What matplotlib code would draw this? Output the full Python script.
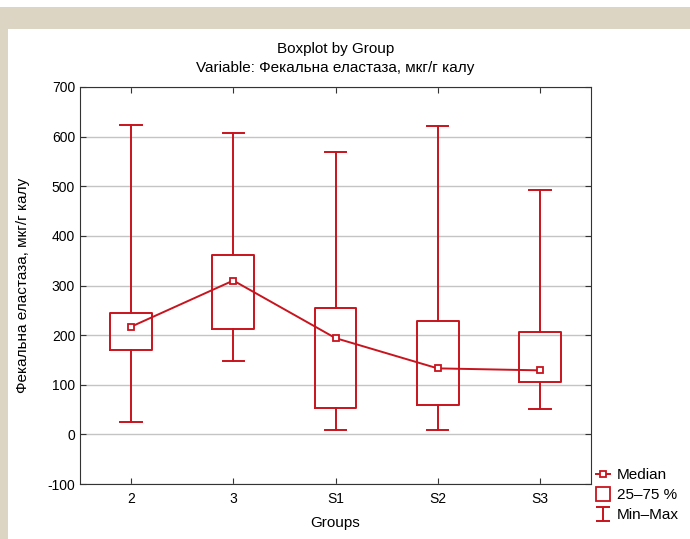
import matplotlib.pyplot as plt
import matplotlib.path as mpath
from matplotlib.lines import Line2D
from matplotlib.patches import Rectangle

plt.rcParams['font.family'] = ['Liberation Sans', 'DejaVu Sans']
plt.rcParams['axes.unicode_minus'] = False

# Дані
groups = ['2', '3', 'S1', 'S2', 'S3']
minimum = [25, 148, 8, 9, 51]
q1 = [171, 212, 53, 59, 106]
median = [217, 310, 194, 133, 129]
q3 = [245, 362, 255, 229, 206]
maximum = [623, 607, 570, 622, 493]

red = '#c8141e'
beige = '#ddd5c3'

fig = plt.figure(figsize=(6.9, 5.39), dpi=100)
# бежева рамка зверху і зліва
fig.patches.append(Rectangle((0, 1 - 29 / 539), 1, 22 / 539, transform=fig.transFigure,
                             facecolor=beige, edgecolor='none', zorder=-1))
fig.patches.append(Rectangle((0, 0), 8 / 690, 1 - 7 / 539, transform=fig.transFigure,
                             facecolor=beige, edgecolor='none', zorder=-1))

ax = fig.add_axes([80 / 690, 1 - 484 / 539, 511 / 690, 397 / 539])
pos = list(range(1, len(groups) + 1))

stats = []
for g, lo, a, m, b, hi in zip(groups, minimum, q1, median, q3, maximum):
    stats.append({'label': g, 'whislo': lo, 'q1': a, 'med': m, 'q3': b, 'whishi': hi})

ax.bxp(stats, positions=pos, widths=0.41, showfliers=False,
       boxprops=dict(color=red, linewidth=1.4),
       whiskerprops=dict(color=red, linewidth=1.4),
       capprops=dict(color=red, linewidth=1.4),
       medianprops=dict(linewidth=0),
       capwidths=0.21)

ax.plot(pos, median, color=red, linewidth=1.4, marker='s', markersize=5,
        markerfacecolor='white', markeredgecolor=red, markeredgewidth=1.3, zorder=5)

ax.set_xlim(0.5, 5.5)
ax.set_ylim(-100, 700)
ax.set_yticks(range(-100, 701, 100))
ax.set_xticks(pos)
ax.set_xticklabels(groups)
ax.yaxis.grid(True, color='#c4c4c4', linewidth=1)
ax.set_axisbelow(True)
ax.tick_params(direction='in', top=True, right=True, length=4, labelsize=10,
               color='#333333')
ax.tick_params(axis='x', pad=6)
for s in ax.spines.values():
    s.set_color('#333333')

ax.set_xlabel('Groups', fontsize=11)
ax.set_ylabel('Фекальна еластаза, мкг/г калу', fontsize=11)
ax.xaxis.set_label_coords(0.5, -(523 - 484) / 397, transform=ax.transAxes)
ax.yaxis.set_label_coords(-(80 - 23) / 511, 0.5, transform=ax.transAxes)
ax.xaxis.label.set_va('center')
ax.yaxis.label.set_va('center')
ax.set_title('Boxplot by Group\nVariable: Фекальна еластаза, мкг/г калу', fontsize=11,
             pad=11, linespacing=1.4)

# легенда
i_path = mpath.Path([(-1, 1), (1, 1), (0, 1), (0, -1), (-1, -1), (1, -1)],
                    [1, 2, 1, 2, 1, 2])
handles = [
    Line2D([], [], color=red, marker='s', markersize=4, markerfacecolor='white',
           markeredgewidth=1.3, linewidth=1.4),
    Line2D([], [], color=red, marker='s', markersize=10, markerfacecolor='white',
           markeredgewidth=1.3, linestyle='none'),
    Line2D([], [], color=red, marker=i_path, markersize=10, markeredgewidth=1.4,
           linestyle='none'),
]
fig.legend(handles, ['Median', '25–75 %', 'Min–Max'], loc='upper left',
           bbox_to_anchor=(590 / 690, 1 - 462 / 539), frameon=False, fontsize=11,
           handlelength=0.9, handletextpad=0.45, labelspacing=0.4, borderaxespad=0)

fig.savefig('out.png', dpi=100)
